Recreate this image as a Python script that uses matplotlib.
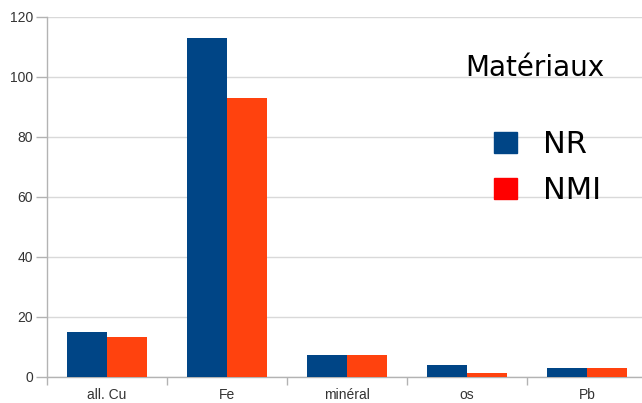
import numpy as np
import matplotlib
matplotlib.use('Agg')
import matplotlib.pyplot as plt
from matplotlib.patches import Rectangle

# Data
categories = ['all. Cu', 'Fe', 'minéral', 'os', 'Pb']
nr_values = [15.0, 113.0, 7.3, 3.9, 2.9]
nmi_values = [13.2, 93.0, 7.3, 1.2, 2.9]
series_names = ['NR', 'NMI']
legend_title = 'Matériaux'

c_nr = '#004586'
c_nmi = '#ff420e'
grid_c = '#d9d9d9'
axis_c = '#b3b3b3'

W, H = 642, 403
fig = plt.figure(figsize=(W / 100, H / 100), dpi=100)
ax = fig.add_axes([47 / W, 26 / H, 600 / W, 360 / H])

x = np.arange(len(categories))
bw = 1 / 3
ax.bar(x - bw / 2, nr_values, width=bw, color=c_nr, zorder=3)
ax.bar(x + bw / 2, nmi_values, width=bw, color=c_nmi, zorder=3)

ax.set_xlim(-0.5, len(categories) - 0.5)
ax.set_ylim(0, 120)
ax.set_yticks(np.arange(0, 121, 20))
ax.set_xticks(x)
ax.set_xticklabels(categories)
ax.set_xticks(np.arange(-0.5, len(categories) + 0.5, 1), minor=True)

ax.yaxis.grid(True, color=grid_c, linewidth=1, zorder=0)
for s in ['top', 'right']:
    ax.spines[s].set_visible(False)
for s in ['left', 'bottom']:
    ax.spines[s].set_color(axis_c)
    ax.spines[s].set_linewidth(1)

ax.tick_params(axis='x', which='major', length=0, pad=8,
               labelsize=10, labelcolor='#333333')
ax.tick_params(axis='x', which='minor', length=6, color=axis_c, width=1)
ax.tick_params(axis='y', length=8, color=axis_c, width=1, pad=2,
               labelsize=10, labelcolor='#333333')
for lbl in ax.get_xticklabels() + ax.get_yticklabels():
    lbl.set_family('Liberation Sans')

# Legend, placed by hand like the original
fig.text(465 / W, 1 - 76 / H, legend_title, fontsize=20, color='#000000',
         family='DejaVu Sans', ha='left', va='baseline')
for i, (name, col) in enumerate(zip(series_names, [c_nr, '#ff0000'])):
    y0 = 132 + i * 46
    fig.patches.append(Rectangle((494 / W, 1 - (y0 + 21) / H), 23 / W, 21 / H,
                                 transform=fig.transFigure, color=col))
    fig.text(543 / W, 1 - (y0 + 21) / H, name, fontsize=22, color='#000000',
             family='DejaVu Sans', ha='left', va='baseline')

fig.savefig('out.png', dpi=100)
